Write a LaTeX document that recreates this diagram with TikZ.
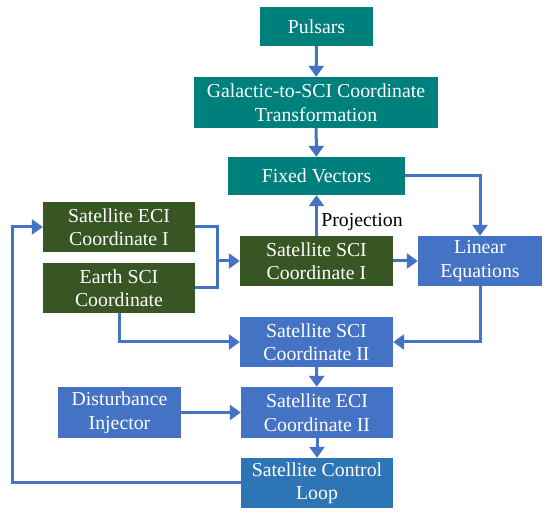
\documentclass[tikz,border=0pt]{standalone}
\usepackage{fontspec}
\setmainfont{Liberation Serif}
\usetikzlibrary{arrows.meta}

\definecolor{tealbox}{HTML}{00807C}
\definecolor{greenbox}{HTML}{375623}
\definecolor{bluebox}{HTML}{4472C4}
\definecolor{loopbox}{HTML}{2E75B6}

\tikzset{
    block/.style={rectangle, text=white, align=center, inner sep=0pt,
        font=\fontsize{19.8}{23.5}\selectfont},
    flow/.style={-{Triangle[length=11pt,width=15pt]}, line width=3pt, color=bluebox},
    wire/.style={-, line width=3pt, color=bluebox}
}

\begin{document}
\begin{tikzpicture}[x=1pt,y=-1pt]
            \useasboundingbox (0,0) rectangle (550,516);

            \node[block, fill=tealbox, minimum width=113pt, minimum height=39pt] (pulsars) at (316.5,26.5) {Pulsars};
            \node[block, fill=tealbox, minimum width=244pt, minimum height=51pt] (galactic) at (316,102.5) {Galactic-to-SCI Coordinate\\Transformation};
            \node[block, fill=tealbox, minimum width=177pt, minimum height=38pt] (fixed) at (316.5,176) {Fixed Vectors};

            \node[block, fill=greenbox, minimum width=152pt, minimum height=50pt] (eciI) at (119,227) {Satellite ECI\\Coordinate I};
            \node[block, fill=greenbox, minimum width=152pt, minimum height=50pt] (earth) at (119,288) {Earth SCI\\Coordinate};
            \node[block, fill=greenbox, minimum width=153pt, minimum height=50pt] (sciI) at (316.5,261) {Satellite SCI\\Coordinate I};

            \node[block, fill=bluebox, minimum width=124pt, minimum height=50pt] (lineq) at (480,261) {Linear\\Equations};
            \node[block, fill=bluebox, minimum width=153pt, minimum height=50pt] (sciII) at (316.5,342) {Satellite SCI\\Coordinate II};
            \node[block, fill=bluebox, minimum width=123pt, minimum height=51pt] (dist) at (119.5,412.5) {Disturbance\\Injector};
            \node[block, fill=bluebox, minimum width=152pt, minimum height=51pt] (eciII) at (317,412.5) {Satellite ECI\\Coordinate II};
            \node[block, fill=loopbox, minimum width=152pt, minimum height=50pt] (loop) at (317,483) {Satellite Control\\Loop};

            \coordinate (merge) at (217,261);
            \coordinate (back) at (12,483);

            \draw[flow] (pulsars) -- (galactic);
            \draw[flow] (galactic) -- (fixed);
            \draw[flow] (sciI) -- node[right, black, font=\fontsize{19.8}{23.5}\selectfont, pos=0.33] {Projection} (fixed);
            \draw[flow] (fixed.east) -| (lineq.north);
            \draw[flow] (sciI) -- (lineq);
            \draw[flow] (lineq.south) |- (sciII.east);

            \draw[wire] (eciI.east) -| (merge);
            \draw[wire] (earth.east) -| (merge);
            \draw[flow] (merge) -- (sciI.west);
            \draw[flow] (earth.south) |- (sciII.west);

            \draw[flow] (sciII) -- (eciII);
            \draw[flow] (dist) -- (eciII);
            \draw[flow] (eciII) -- (loop);
            \draw[flow] (loop.west) -- (back) |- (eciI.west);
        \end{tikzpicture}
\end{document}
